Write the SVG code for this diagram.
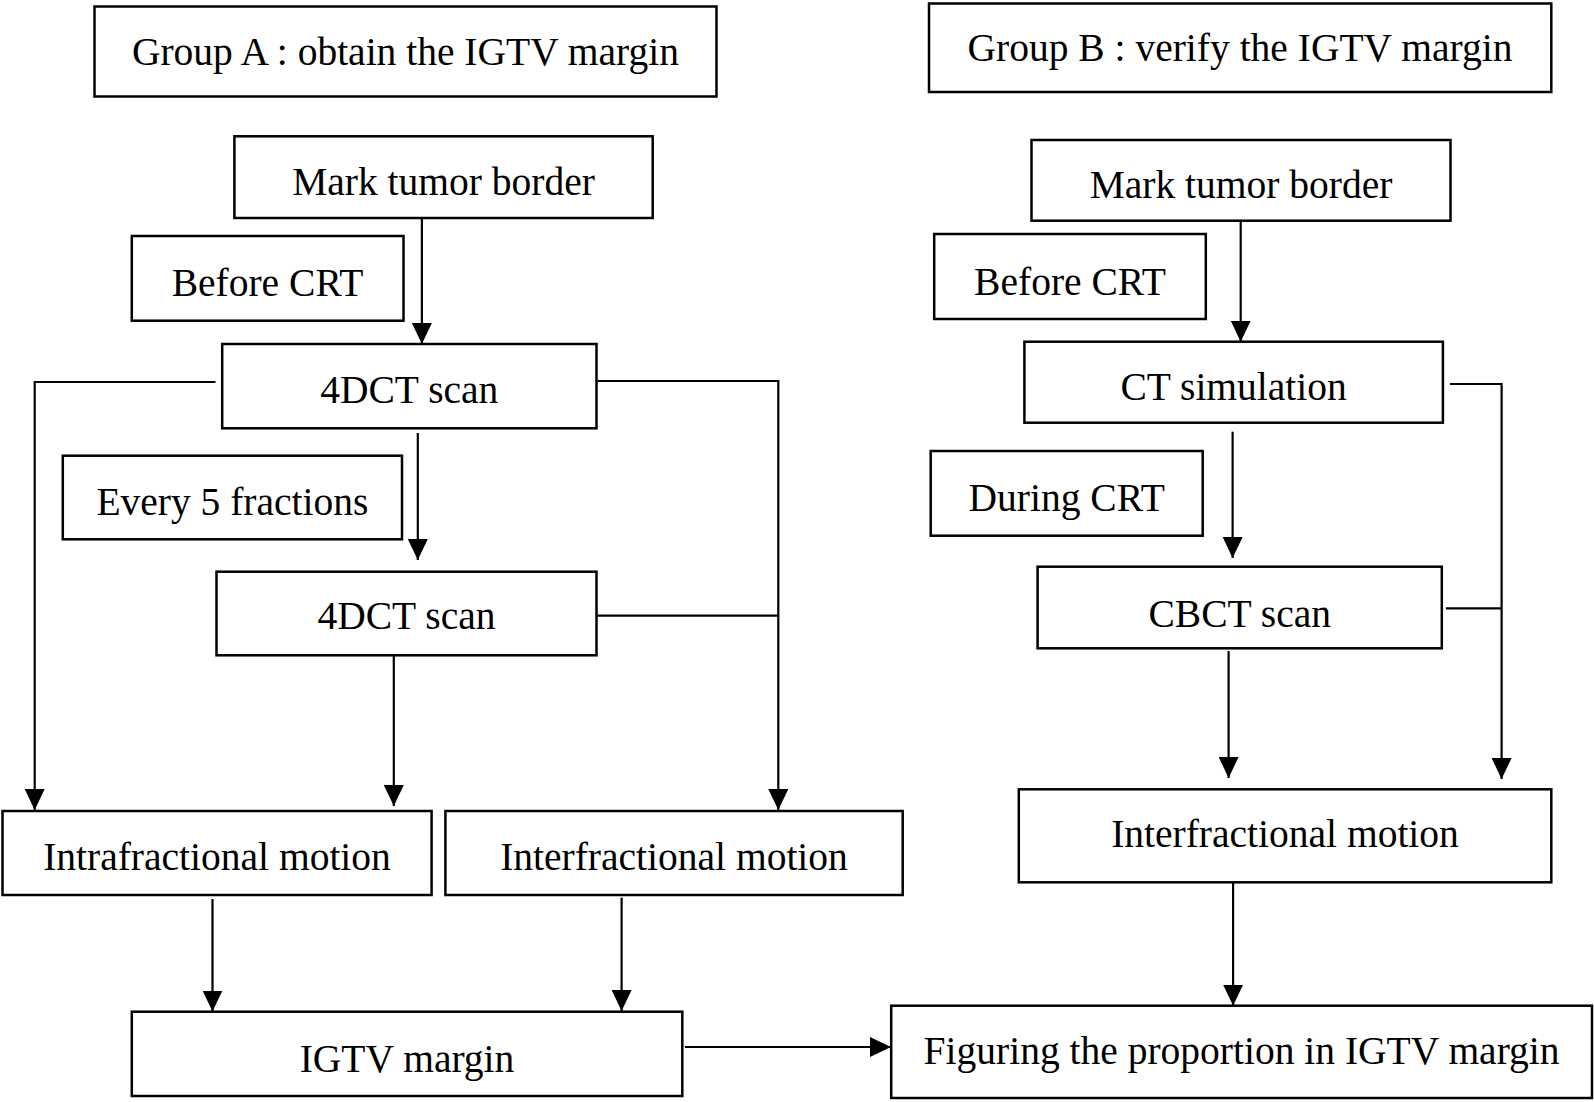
<svg xmlns="http://www.w3.org/2000/svg" width="1594" height="1102" viewBox="0 0 1594 1102">
<style>
.box{fill:#fff;stroke:#000;stroke-width:2.5}
.lbl{font-family:"Liberation Serif","Times New Roman",serif;font-size:39.5px;fill:#000;text-anchor:middle}
.con{fill:none;stroke:#000;stroke-width:2.2}
.arr{marker-end:url(#ah)}
</style>
<defs>
<marker id="ah" markerUnits="userSpaceOnUse" markerWidth="22" markerHeight="20" refX="21" refY="10" orient="auto">
<path d="M0,0 L21,10 L0,20 Z" fill="#000"/>
</marker>
</defs>
<rect width="1594" height="1102" fill="#fff"/>
<g id="connectors">
<path class="con arr" d="M421.9,218 V344"/>
<path class="con arr" d="M215.5,382 H34.7 V810"/>
<path class="con arr" d="M597.5,381 H778.3 V810"/>
<path class="con arr" d="M417.8,433 V560"/>
<path class="con" d="M597.5,615.7 H778.3"/>
<path class="con arr" d="M393.8,655.5 V806"/>
<path class="con arr" d="M212.5,899 V1011.5"/>
<path class="con arr" d="M621.6,897.7 V1011"/>
<path class="con arr" d="M684.9,1047 H891"/>
<path class="con arr" d="M1240.7,221 V341.7"/>
<path class="con arr" d="M1450,384 H1501.6 V779"/>
<path class="con arr" d="M1232.6,431.7 V558"/>
<path class="con" d="M1445.9,608.3 H1501.6"/>
<path class="con arr" d="M1228.6,651 V778"/>
<path class="con arr" d="M1233.1,882 V1005.7"/>
</g>
<g id="groupA">
<rect class="box" x="94.5" y="6.5" width="622" height="90"/>
<text class="lbl" x="405.5" y="65">Group A : obtain the IGTV margin</text>
</g>
<g id="groupB">
<rect class="box" x="929" y="3.5" width="622.3" height="88.5"/>
<text class="lbl" x="1240" y="61">Group B : verify the IGTV margin</text>
</g>
<g id="markA">
<rect class="box" x="234.4" y="136.3" width="418.3" height="81.7"/>
<text class="lbl" x="443.5" y="195">Mark tumor border</text>
</g>
<g id="beforeA">
<rect class="box" x="131.8" y="236" width="271.7" height="84.7"/>
<text class="lbl" x="267.6" y="296">Before CRT</text>
</g>
<g id="scan4dct1">
<rect class="box" x="222.2" y="344" width="374.3" height="84.3"/>
<text class="lbl" x="409.3" y="403">4DCT scan</text>
</g>
<g id="every5">
<rect class="box" x="62.8" y="455.7" width="339.2" height="83.6"/>
<text class="lbl" x="232.4" y="515">Every 5 fractions</text>
</g>
<g id="scan4dct2">
<rect class="box" x="216.5" y="571.7" width="380" height="83.6"/>
<text class="lbl" x="406.5" y="629">4DCT scan</text>
</g>
<g id="intraA">
<rect class="box" x="2.5" y="811" width="429.1" height="84"/>
<text class="lbl" x="217" y="870">Intrafractional motion</text>
</g>
<g id="interA">
<rect class="box" x="445.4" y="811" width="457.3" height="84"/>
<text class="lbl" x="674" y="870">Interfractional motion</text>
</g>
<g id="igtv">
<rect class="box" x="131.8" y="1011.7" width="550.5" height="84.3"/>
<text class="lbl" x="407" y="1071.7">IGTV margin</text>
</g>
<g id="markB">
<rect class="box" x="1031.5" y="140" width="419" height="80.7"/>
<text class="lbl" x="1241" y="198">Mark tumor border</text>
</g>
<g id="beforeB">
<rect class="box" x="934.2" y="234" width="271.6" height="85"/>
<text class="lbl" x="1070" y="295">Before CRT</text>
</g>
<g id="ctsim">
<rect class="box" x="1024.4" y="341.7" width="418.5" height="81"/>
<text class="lbl" x="1233.6" y="400">CT simulation</text>
</g>
<g id="duringB">
<rect class="box" x="930.7" y="451" width="272" height="84.7"/>
<text class="lbl" x="1066.7" y="510.7">During CRT</text>
</g>
<g id="cbct">
<rect class="box" x="1037.6" y="566.7" width="404.2" height="81.6"/>
<text class="lbl" x="1239.7" y="626.7">CBCT scan</text>
</g>
<g id="interB">
<rect class="box" x="1018.8" y="789.3" width="532.5" height="93"/>
<text class="lbl" x="1285" y="846.7">Interfractional motion</text>
</g>
<g id="figuring">
<rect class="box" x="891.2" y="1005.7" width="700.8" height="92.3"/>
<text class="lbl" x="1241.6" y="1064">Figuring the proportion in IGTV margin</text>
</g>
</svg>
